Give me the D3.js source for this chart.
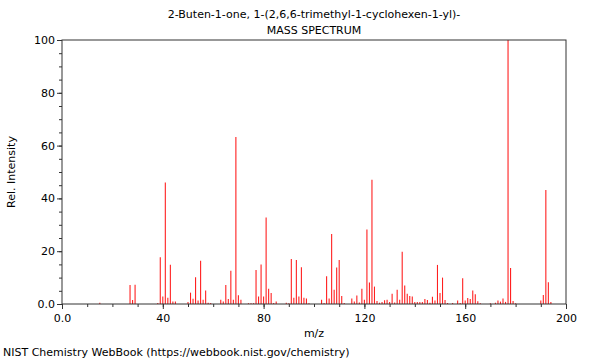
<!DOCTYPE html>
<html>
<head>
<meta charset="utf-8">
<script src="https://cdn.jsdelivr.net/npm/d3@7"></script>
<style>
  body { margin: 0; background: #fff; }
  svg { font-family: "DejaVu Sans", sans-serif; }
</style>
</head>
<body>
<div class="graph"></div>
<script>
/*---------- DATA ----------*/

// m/z values and relative intensities
const mz = [15, 27, 28, 29, 38, 39, 40, 41, 42, 43, 44, 45, 50, 51, 52, 53, 54, 55, 56, 57, 58, 59,
    63, 64, 65, 66, 67, 68, 69, 70, 71, 74, 75, 76, 77, 78, 79, 80, 81, 82, 83, 84, 85, 89, 90,
    91, 92, 93, 94, 95, 96, 97, 98, 103, 104, 105, 106, 107, 108, 109, 110, 111, 112, 115, 116,
    117, 118, 119, 120, 121, 122, 123, 124, 125, 126, 127, 128, 129, 130, 131, 132, 133, 134,
    135, 136, 137, 138, 139, 140, 141, 142, 143, 144, 145, 146, 147, 148, 149, 150, 151, 152,
    153, 155, 157, 158, 159, 160, 161, 162, 163, 164, 165, 166, 170, 172, 173, 174, 175, 176,
    177, 178, 179, 180, 190, 191, 192, 193, 194];
const intensity = [0.5, 7.2, 1.5, 7.3, 0.4, 17.7, 2.8, 46, 2.4, 14.9, 0.9, 0.9, 0.8, 4.3, 2.0, 10.1, 1.3, 16.4, 1.6, 5.1, 0.5, 0.4,
    1.6, 0.9, 7.2, 1.9, 12.6, 1.6, 63.3, 3.3, 1.6, 0.3, 0.3, 0.3, 12.9, 2.8, 15.0, 2.8, 32.8, 5.8, 4.2, 0.4, 0.9, 0.5, 0.3,
    17.0, 2.4, 16.7, 2.8, 13.9, 2.4, 2.1, 0.3, 1.6, 0.4, 10.5, 2.1, 26.5, 5.4, 13.8, 16.7, 3.0, 0.4, 2.1, 0.9,
    3.2, 0.6, 5.8, 1.6, 28.2, 8.1, 47.1, 6.6, 1.1, 0.5, 0.8, 1.4, 1.6, 0.8, 3.9, 0.6, 5.4, 1.6,
    19.8, 7.0, 3.9, 3.0, 2.8, 0.8, 0.8, 0.8, 0.8, 1.9, 1.5, 0.5, 2.7, 1.3, 14.8, 4.2, 10.0, 1.5,
    0.4, 0.4, 1.3, 0.4, 9.8, 1.3, 2.3, 1.9, 5.1, 3.7, 1.0, 0.3, 0.3, 0.5, 1.3, 0.9, 2.1, 0.8,
    100, 13.6, 1.1, 0.3, 1.3, 3.4, 43.2, 8.2, 0.8];

const xTickValues = [0, 40, 80, 120, 160, 200];
const xTickLabels = ["0.0", "40", "80", "120", "160", "200"];
const yTickValues = [0, 20, 40, 60, 80, 100];
const yTickLabels = ["0.0", "20", "40", "60", "80", "100"];

const titleLines = ["2-Buten-1-one, 1-(2,6,6-trimethyl-1-cyclohexen-1-yl)-", "MASS SPECTRUM"];

/*---------- D3 STUFF ----------*/

const SIZE = {X: 600, Y: 360};
const MARGIN = {TOP: 40, BOTTOM: 56, LEFT: 62, RIGHT: 34};
const DIM = {WIDTH: SIZE.X - MARGIN.LEFT - MARGIN.RIGHT,
             HEIGHT: SIZE.Y - MARGIN.TOP - MARGIN.BOTTOM};
const AXIS_COLOR = "#333";

const svg = d3.select(".graph").append("svg")
    .attr("width", SIZE.X)
    .attr("height", SIZE.Y);

const graph = svg.append("g")
    .attr("transform", `translate(${MARGIN.LEFT}, ${MARGIN.TOP})`);

// scales
const x = d3.scaleLinear().domain([0, 200]).range([0, DIM.WIDTH]);
const y = d3.scaleLinear().domain([0, 100]).range([DIM.HEIGHT, 0]);

const peaks = mz.map((m, i) => ({mz: m, value: intensity[i]}));

// spectrum lines
graph.append("g")
    .selectAll("line")
    .data(peaks)
    .enter().append("line")
    .attr("x1", d => x(d.mz))
    .attr("x2", d => x(d.mz))
    .attr("y1", y(0))
    .attr("y2", d => y(d.value))
    .attr("stroke", "#ff2020")
    .attr("stroke-width", 1.1);

// minor ticks
const xMinor = graph.append("g")
    .attr("transform", `translate(0, ${DIM.HEIGHT})`)
    .call(d3.axisBottom(x).tickValues(d3.range(0, 201, 10)).tickSize(3).tickFormat(""));
const yMinor = graph.append("g")
    .call(d3.axisLeft(y).tickValues(d3.range(0, 101, 5)).tickSize(3).tickFormat(""));

// major axes
const xAxis = graph.append("g")
    .attr("transform", `translate(0, ${DIM.HEIGHT})`)
    .call(d3.axisBottom(x).tickValues(xTickValues).tickSize(5).tickPadding(5)
        .tickFormat((d, i) => xTickLabels[i]));
const yAxis = graph.append("g")
    .call(d3.axisLeft(y).tickValues(yTickValues).tickSize(5).tickPadding(2)
        .tickFormat((d, i) => yTickLabels[i]));

[xMinor, yMinor, xAxis, yAxis].forEach(a => {
    a.select(".domain").remove();
    a.selectAll("line").attr("stroke", AXIS_COLOR);
    a.selectAll("text").attr("font-family", "DejaVu Sans").attr("font-size", 11).attr("fill", "#000");
});

// frame box
graph.append("rect")
    .attr("x", 0).attr("y", 0)
    .attr("width", DIM.WIDTH).attr("height", DIM.HEIGHT)
    .attr("fill", "none")
    .attr("stroke", AXIS_COLOR)
    .attr("stroke-width", 1);

// titles
svg.append("g").selectAll("text")
    .data(titleLines)
    .enter().append("text")
    .attr("x", MARGIN.LEFT + DIM.WIDTH / 2)
    .attr("y", (d, i) => 18 + i * 16)
    .attr("text-anchor", "middle")
    .attr("font-size", 11)
    .text(d => d);

// axis labels
svg.append("text")
    .attr("x", MARGIN.LEFT + DIM.WIDTH / 2)
    .attr("y", 337)
    .attr("text-anchor", "middle")
    .attr("font-size", 11)
    .text("m/z");

svg.append("text")
    .attr("transform", `translate(15, ${MARGIN.TOP + DIM.HEIGHT / 2}) rotate(-90)`)
    .attr("text-anchor", "middle")
    .attr("font-size", 11)
    .text("Rel. Intensity");

// footer
svg.append("text")
    .attr("x", 3)
    .attr("y", 356)
    .attr("font-size", 11)
    .text("NIST Chemistry WebBook (https://webbook.nist.gov/chemistry)");
</script>
</body>
</html>
